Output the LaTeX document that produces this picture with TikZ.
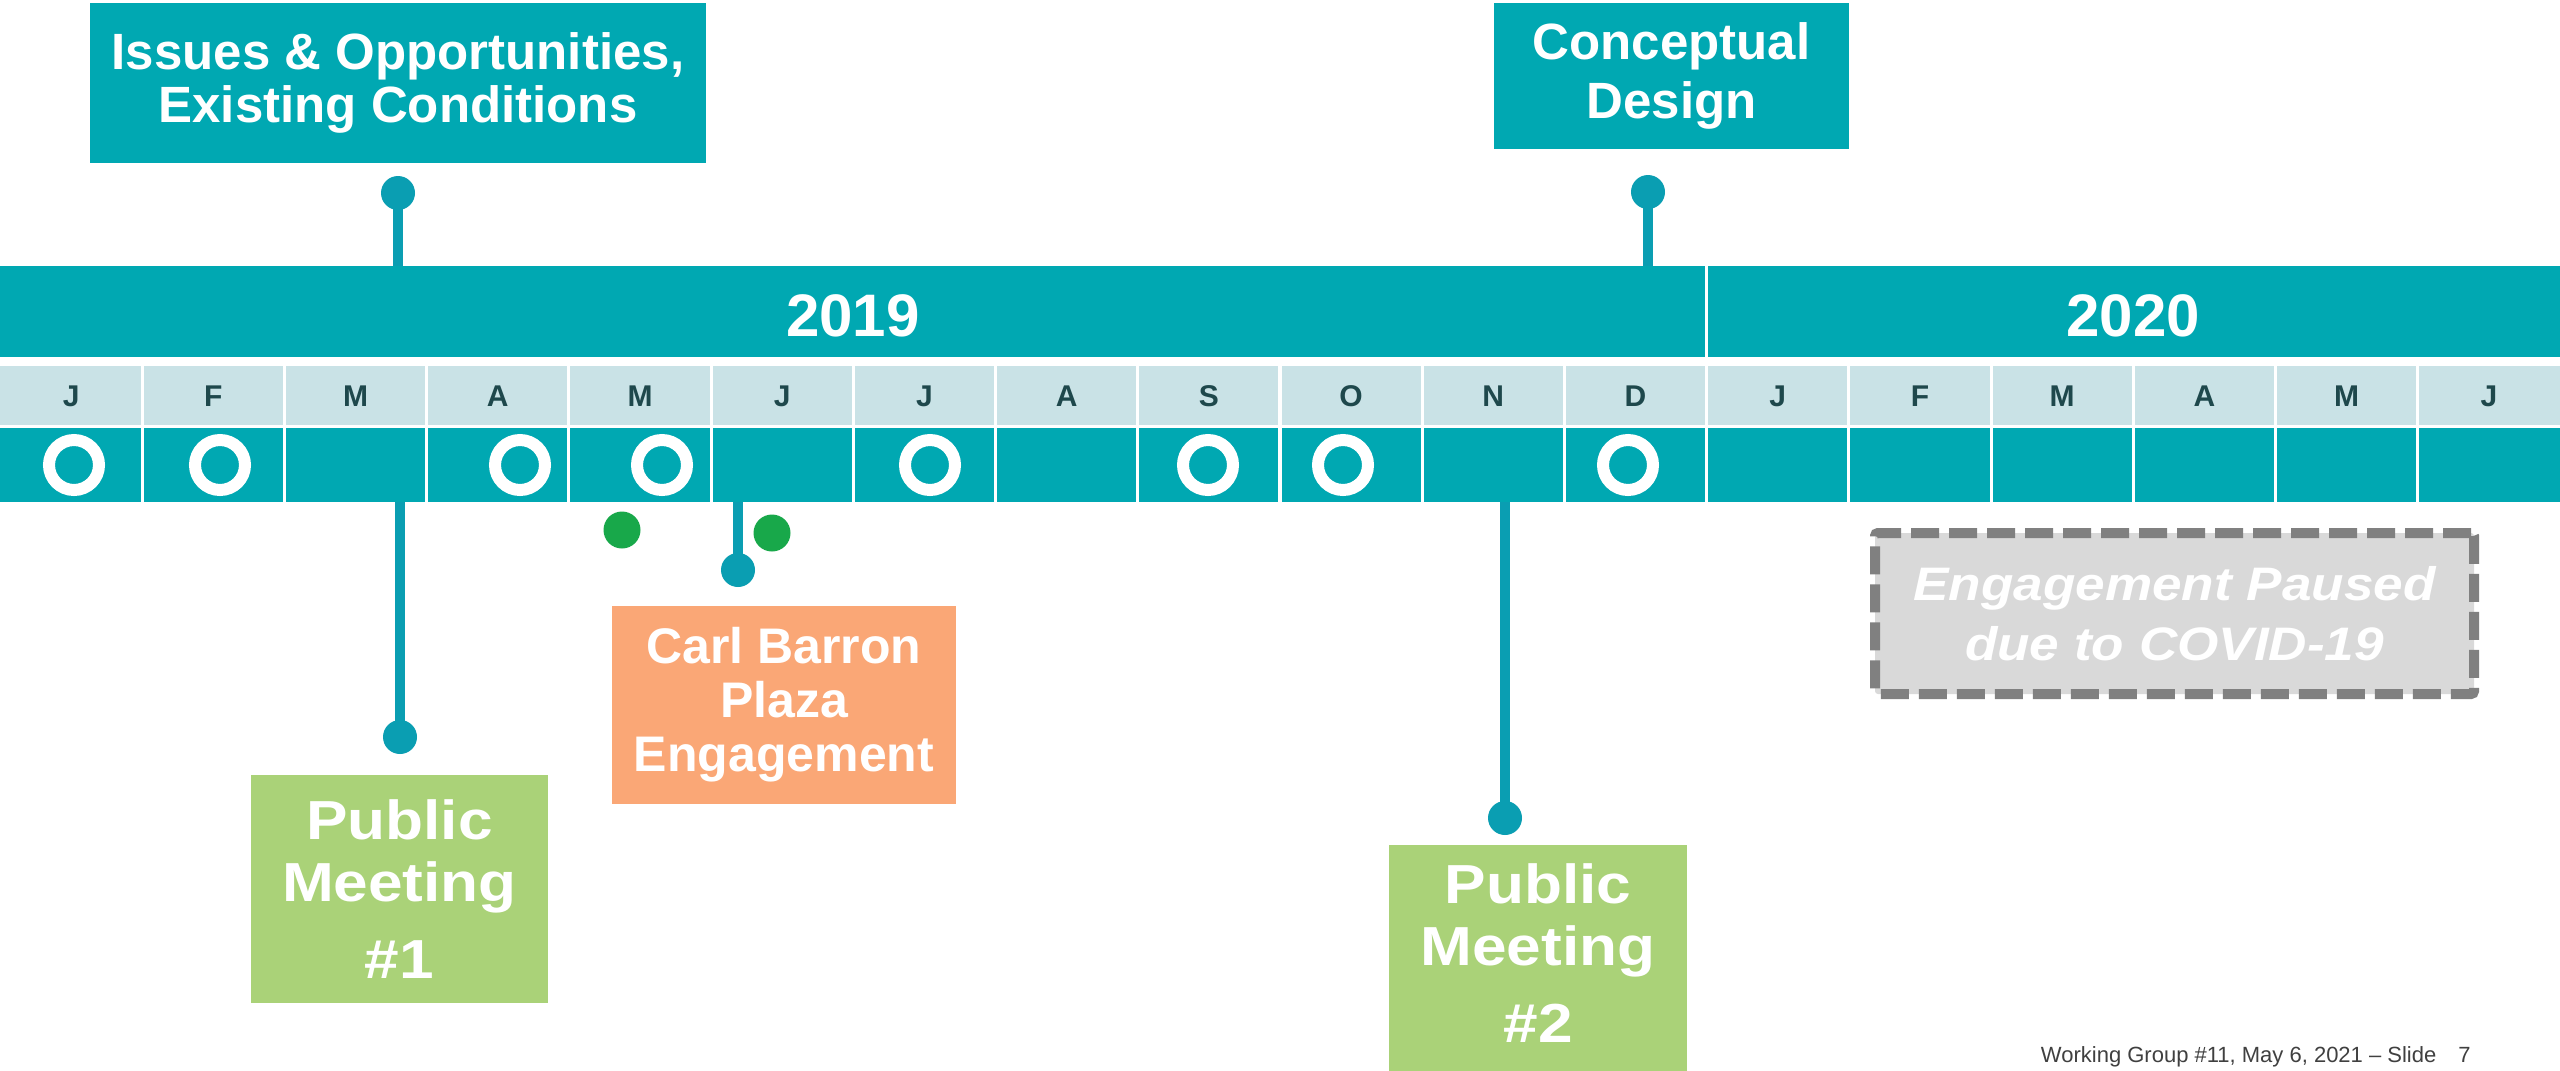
\documentclass[tikz,border=0pt]{standalone}
\usepackage{fontspec}
\setmainfont{Liberation Sans}
\newfontfamily\widesans[FakeStretch=1.13]{Liberation Sans}
\usepackage{tikz}

\definecolor{tealbar}{RGB}{0,168,178}
\definecolor{pinteal}{RGB}{10,158,178}
\definecolor{monthbg}{RGB}{201,226,230}
\definecolor{monthink}{RGB}{30,72,76}
\definecolor{carlorange}{RGB}{250,167,118}
\definecolor{pmgreen}{RGB}{170,210,120}
\definecolor{dotgreen}{RGB}{24,168,74}
\definecolor{pausefill}{RGB}{217,217,217}
\definecolor{pausegray}{RGB}{128,128,128}
\definecolor{footgray}{RGB}{64,64,64}

\def\mw{142.22}

\begin{document}
\begin{tikzpicture}[
  x=0.5pt, y=-0.5pt,
  every node/.style={inner sep=0pt},
  headbox/.style={fill=tealbar, text=white, align=center, font=\bfseries\fontsize{25.5pt}{26.5pt}\selectfont},
  carlbox/.style={fill=carlorange, text=white, align=center, minimum width=172pt, minimum height=99pt, font=\bfseries\fontsize{25pt}{27pt}\selectfont},
  pmbox/.style={fill=pmgreen, text=white, align=center, minimum width=148.5pt, minimum height=114pt, font=\widesans\bfseries\fontsize{27.5pt}{31pt}\selectfont},
  pausebox/.style={draw=pausegray, fill=pausefill, line width=5pt, dash pattern=on 14pt off 5pt, rounded corners=1.5pt, minimum width=299.5pt, minimum height=80.5pt, text=white, align=center, font=\widesans\bfseries\itshape\fontsize{23.5pt}{30pt}\selectfont},
  pindot/.style={circle, fill=pinteal, minimum size=17pt},
  gdot/.style={circle, fill=dotgreen, minimum size=18.5pt},
  pinline/.style={draw=pinteal, line width=5pt},
  sepline/.style={draw=white, line width=1.6pt},
  ring/.style={draw=white, line width=6pt},
  yeartxt/.style={text=white, font=\bfseries\fontsize{30pt}{30pt}\selectfont},
  monthtxt/.style={text=monthink, font=\bfseries\fontsize{15pt}{15pt}\selectfont}
]
\useasboundingbox[fill=white] (0,0) rectangle (2560,1071);

% milestones above the timeline
\node[headbox, minimum width=308pt, minimum height=80pt] (issues) at (398,83) {Issues \& Opportunities,\\Existing Conditions};
\node[headbox, minimum width=177.5pt, minimum height=73pt, font=\bfseries\fontsize{25.5pt}{29.5pt}\selectfont] (concept) at (1671.5,76) {Conceptual\\Design};

% pin heads
\node[pindot] (issuesdot)  at (398,193) {};
\node[pindot] (conceptdot) at (1648,192) {};
\node[pindot] (pmonedot)   at (400,737) {};
\node[pindot] (carldot)    at (738,570) {};
\node[pindot] (pmtwodot)   at (1505,818) {};

% pin feet on the bands
\coordinate (issuesfoot)  at (398,266);
\coordinate (conceptfoot) at (1648,266);
\coordinate (pmonefoot)   at (400,502);
\coordinate (carlfoot)    at (738,502);
\coordinate (pmtwofoot)   at (1505,502);

\draw[pinline] (issuesdot.center)  -- (issuesfoot);
\draw[pinline] (conceptdot.center) -- (conceptfoot);
\draw[pinline] (pmonefoot) -- (pmonedot.center);
\draw[pinline] (carlfoot)  -- (carldot.center);
\draw[pinline] (pmtwofoot) -- (pmtwodot.center);

% year band
\fill[tealbar] (0,266) rectangle (2560,357);
\draw[sepline] (12*\mw,266) -- (12*\mw,357);
\node[yeartxt] (yr2019) at (853,316) {2019};
\node[yeartxt] (yr2020) at (2133,316) {2020};

% month rows
\fill[monthbg] (0,366) rectangle (2560,425);
\fill[tealbar] (0,428) rectangle (2560,502);
\foreach \m [count=\i from 0] in {J,F,M,A,M,J,J,A,S,O,N,D,J,F,M,A,M,J}
  \node[monthtxt] (mon\i) at ({(\i+0.5)*\mw},396) {\m};
\foreach \i in {1,...,17}
  \draw[sepline] ({\i*\mw},366) -- ({\i*\mw},502);

% working group meetings
\foreach \rx in {74,220,520,662,930,1208,1343,1628}
  \draw[ring] (\rx,465) circle [radius=25];

% pop-up events
\node[gdot] (popupA) at (622,530) {};
\node[gdot] (popupB) at (772,533) {};

% milestones below the timeline
\node[carlbox] (carl) at (784,705) {Carl Barron\\Plaza\\Engagement};
\node[pmbox] (pmone) at (399.5,889) {Public\\Meeting\\[7.5pt]\#1};
\fill[pmgreen] (1389,845) rectangle (1687,1080);
\node[pmbox, minimum height=108pt] (pmtwo) at (1538,953) {Public\\Meeting\\[7.5pt]\#2};

% pause note
\node[pausebox] (paused) at (2174.5,613.5) {Engagement Paused\\due to COVID-19};

% footer
\node[anchor=base east, text=footgray, font=\fontsize{11pt}{13pt}\selectfont] (footer) at (2471,1062) {Working Group \#11, May 6, 2021 – Slide\quad 7};
\end{tikzpicture}
\end{document}
